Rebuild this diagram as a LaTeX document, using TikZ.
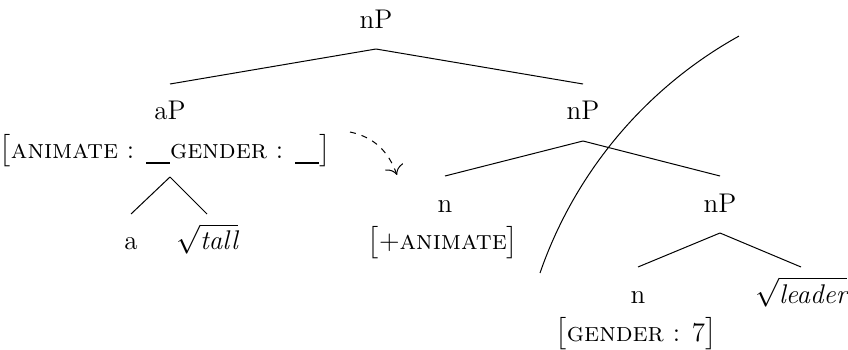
\documentclass[tikz,border=0pt]{standalone}
\usepackage{amsmath,amssymb}
\usepackage{tikz}
\usetikzlibrary{arrows.meta}
\newcommand{\ft}[1]{\textsc{#1}}
\newcommand{\blank}{\rule[-3pt]{12pt}{1pt}}
\newcommand{\rt}[1]{$\sqrt{\textit{#1}}$}

\begin{document}
\begin{tikzpicture}[
  x=0.5pt, y=0.5pt,
  cat/.style={inner sep=0pt, outer ysep=10.5pt, anchor=base, text height=7.5pt,
              text depth=0pt, font=\fontsize{13.5}{16}\selectfont},
  fts/.style={cat, outer ysep=9.5pt},
  br/.style={line width=0.5pt},
  arr/.style={br, dashed, -{To[length=1.6mm]}}
]
\useasboundingbox (0,0) rectangle (848,349);
\node[cat] (root) at (376,321) {nP};
\node[cat] (aP) at (170,229) {aP};
\node[fts] (aPf) at (165,191) {$\bigl[$\ft{animate} : \blank\ft{gender} : \blank$\bigr]$};
\node[cat] (a) at (131,99) {a};
\node[cat] (tall) at (207,99) {\rt{tall}};
\node[cat] (nP) at (583,229) {nP};
\node[cat] (n) at (445,137) {n};
\node[cat] (nf) at (443,99) {$\bigl[$+\ft{animate}$\bigr]$};
\node[cat] (nPb) at (720,137) {nP};
\node[cat] (n2) at (638,46) {n};
\node[cat] (n2f) at (636,8) {$\bigl[$\ft{gender} : 7$\bigr]$};
\node[cat] (leader) at (801,46) {\rt{leader}};
\coordinate (aPb) at (aP |- aPf.south);
\foreach \a/\b in {root.south/aP.north, root.south/nP.north, aPb/a.north, aPb/tall.north,
                   nP.south/n.north, nP.south/nPb.north, nPb.south/n2.north, nPb.south/leader.north}
  \draw[br] (\a) -- (\b);
% dashed arrow and the cut
\coordinate (arrs) at (350,217);
\coordinate (arre) at (397,174);
\draw[arr] (arrs) to[out=-12, in=110] (arre);
\coordinate (cut) at (540,76);
\draw[br] (cut) arc[start angle=160.9, end angle=119.05, radius=216.6pt];
\end{tikzpicture}
\end{document}
